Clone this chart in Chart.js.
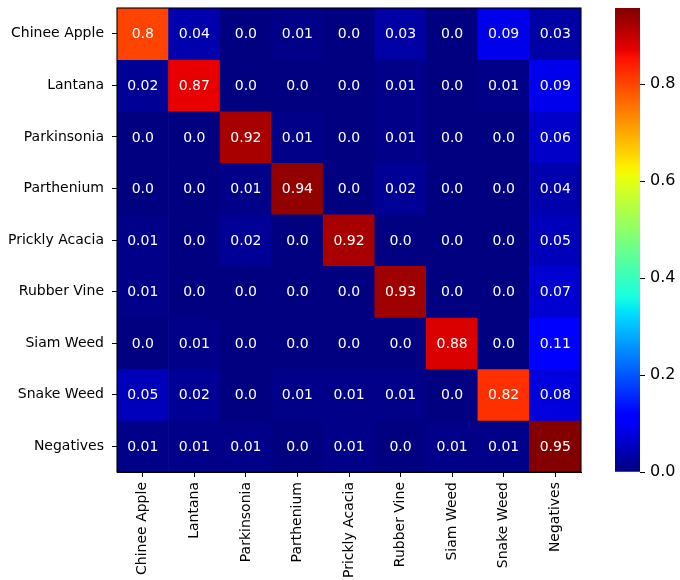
<!DOCTYPE html>
<html>
<head>
<meta charset="utf-8">
<script src="https://cdn.jsdelivr.net/npm/chart.js@4/dist/chart.umd.min.js"></script>
<style>
  html, body { margin: 0; padding: 0; background: #fff; }
  #wrap { position: relative; width: 680px; height: 580px; }
  #matrix { position: absolute; left: 0; top: 0; }
  #cbar { position: absolute; left: 600px; top: 0; }
</style>
</head>
<body>
<div id="wrap">
  <canvas id="matrix" width="600" height="580"></canvas>
  <canvas id="cbar" width="80" height="580"></canvas>
</div>
<script>
// Class names: rows are true labels, columns are predicted labels
const trueLabels = ['Chinee Apple', 'Lantana', 'Parkinsonia', 'Parthenium', 'Prickly Acacia',
                    'Rubber Vine', 'Siam Weed', 'Snake Weed', 'Negatives'];
const predLabels = ['Chinee Apple', 'Lantana', 'Parkinsonia', 'Parthenium', 'Prickly Acacia',
                    'Rubber Vine', 'Siam Weed', 'Snake Weed', 'Negatives'];

// Normalised confusion matrix, one array per true class
const chineeApple   = [0.8,  0.04, 0.0,  0.01, 0.0,  0.03, 0.0,  0.09, 0.03];
const lantana       = [0.02, 0.87, 0.0,  0.0,  0.0,  0.01, 0.0,  0.01, 0.09];
const parkinsonia   = [0.0,  0.0,  0.92, 0.01, 0.0,  0.01, 0.0,  0.0,  0.06];
const parthenium    = [0.0,  0.0,  0.01, 0.94, 0.0,  0.02, 0.0,  0.0,  0.04];
const pricklyAcacia = [0.01, 0.0,  0.02, 0.0,  0.92, 0.0,  0.0,  0.0,  0.05];
const rubberVine    = [0.01, 0.0,  0.0,  0.0,  0.0,  0.93, 0.0,  0.0,  0.07];
const siamWeed      = [0.0,  0.01, 0.0,  0.0,  0.0,  0.0,  0.88, 0.0,  0.11];
const snakeWeed     = [0.05, 0.02, 0.0,  0.01, 0.01, 0.01, 0.0,  0.82, 0.08];
const negatives     = [0.01, 0.01, 0.01, 0.0,  0.01, 0.0,  0.01, 0.01, 0.95];
const matrixRows = [chineeApple, lantana, parkinsonia, parthenium, pricklyAcacia,
                    rubberVine, siamWeed, snakeWeed, negatives];

// Colour scale range and colour bar ticks
const colorMin = 0.0;
const colorMax = 0.957;
const colorbarTicks = [0.0, 0.2, 0.4, 0.6, 0.8];

const FONT = 'DejaVu Sans';
Chart.defaults.font.family = FONT;
Chart.defaults.color = '#000';

// "jet" colour map (piecewise linear segments)
const JET = {
  r: [[0, 0], [0.35, 0], [0.66, 1], [0.89, 1], [1, 0.5]],
  g: [[0, 0], [0.125, 0], [0.375, 1], [0.64, 1], [0.91, 0], [1, 0]],
  b: [[0, 0.5], [0.11, 1], [0.34, 1], [0.65, 0], [1, 0]]
};
function seg(pts, t) {
  for (let i = 1; i < pts.length; i++) {
    if (t <= pts[i][0]) {
      const [x0, y0] = pts[i - 1], [x1, y1] = pts[i];
      return y0 + (y1 - y0) * (t - x0) / (x1 - x0);
    }
  }
  return pts[pts.length - 1][1];
}
function jetRGB(t) {
  t = Math.min(1, Math.max(0, t));
  return [seg(JET.r, t), seg(JET.g, t), seg(JET.b, t)].map(c => Math.round(c * 255));
}
// 256-entry lookup table
const LUT = Array.from({ length: 256 }, (_, i) => jetRGB(i / 255));
function colorFor(v) {
  const t = (v - colorMin) / (colorMax - colorMin);
  const idx = Math.min(255, Math.max(0, Math.floor(t * 256)));
  const [r, g, b] = LUT[idx];
  return `rgb(${r},${g},${b})`;
}
function fmt(v) {
  return Number.isInteger(v) ? v.toFixed(1) : String(v);
}
// Keep the plot frame exactly where the layout padding puts it
function noEdgePadding(scale) {
  scale.paddingTop = 0;
  scale.paddingBottom = 0;
}

// One floating-bar dataset per matrix row; every row spans [r, r+1] on the y scale
const datasets = matrixRows.map((row, r) => ({
  label: trueLabels[r],
  data: row.map(() => [r, r + 1]),
  values: row,
  backgroundColor: row.map(colorFor),
  borderWidth: 0,
  grouped: false,
  barPercentage: 1.0,
  categoryPercentage: 1.0
}));

// Cell annotations and frame
const cellText = {
  id: 'cellText',
  afterDatasetsDraw(chart) {
    const ctx = chart.ctx;
    ctx.save();
    ctx.fillStyle = '#fff';
    ctx.font = `14px "${FONT}"`;
    ctx.textAlign = 'center';
    ctx.textBaseline = 'middle';
    chart.data.datasets.forEach((ds, i) => {
      chart.getDatasetMeta(i).data.forEach((bar, j) => {
        const p = bar.getCenterPoint();
        ctx.fillText(fmt(ds.values[j]), p.x, p.y + 1);
      });
    });
    const a = chart.chartArea;
    ctx.strokeStyle = '#000';
    ctx.lineWidth = 1.1;
    ctx.strokeRect(a.left, a.top, a.right - a.left, a.bottom - a.top);
    ctx.restore();
  }
};

new Chart(document.getElementById('matrix'), {
  type: 'bar',
  data: { labels: predLabels, datasets },
  options: {
    responsive: false,
    animation: false,
    layout: { padding: { top: 8, right: 19, left: 0, bottom: 0 } },
    plugins: { legend: { display: false }, tooltip: { enabled: false } },
    scales: {
      x: {
        type: 'category',
        offset: true,
        grid: { display: true, offset: false, drawOnChartArea: false, drawTicks: true,
                tickLength: 5, color: '#000', lineWidth: 1 },
        border: { display: true, color: '#000' },
        ticks: { maxRotation: 90, minRotation: 90, autoSkip: false, padding: 5,
                 font: { size: 14 }, color: '#000' },
        afterFit(scale) { scale.height = 108; scale.paddingLeft = 0; scale.paddingRight = 0; }
      },
      y: {
        type: 'linear',
        min: 0,
        max: trueLabels.length,
        reverse: true,
        grid: { display: true, drawOnChartArea: false, drawTicks: true,
                tickLength: 5, color: '#000', lineWidth: 1 },
        border: { display: true, color: '#000' },
        afterBuildTicks(scale) {
          scale.ticks = trueLabels.map((_, i) => ({ value: i + 0.5 }));
        },
        ticks: {
          autoSkip: false,
          padding: 8,
          font: { size: 14 },
          color: '#000',
          callback: (v, i) => trueLabels[i]
        },
        afterFit(scale) { scale.width = 117; noEdgePadding(scale); }
      }
    }
  },
  plugins: [cellText]
});

// Colour bar: a single floating bar filled with the colour map gradient
function barGradient(context) {
  const area = context.chart.chartArea;
  if (!area) return null;
  const g = context.chart.ctx.createLinearGradient(0, area.bottom, 0, area.top);
  for (let i = 0; i < 256; i++) {
    const [r, gg, b] = LUT[i];
    g.addColorStop(i / 255, `rgb(${r},${gg},${b})`);
  }
  return g;
}

new Chart(document.getElementById('cbar'), {
  type: 'bar',
  data: {
    labels: [''],
    datasets: [{
      data: [[colorMin, colorMax]],
      backgroundColor: barGradient,
      borderWidth: 0,
      barPercentage: 1.0,
      categoryPercentage: 1.0
    }]
  },
  options: {
    responsive: false,
    animation: false,
    layout: { padding: { top: 8, bottom: 108, left: 15, right: 0 } },
    plugins: { legend: { display: false }, tooltip: { enabled: false } },
    scales: {
      x: { display: false },
      y: {
        type: 'linear',
        position: 'right',
        min: colorMin,
        max: colorMax,
        grid: { display: true, drawOnChartArea: false, drawTicks: true,
                tickLength: 5, color: '#000', lineWidth: 1 },
        border: { display: false },
        afterBuildTicks(scale) {
          scale.ticks = colorbarTicks.map(v => ({ value: v }));
        },
        ticks: {
          padding: 5,
          font: { size: 16 },
          color: '#000',
          callback: v => v.toFixed(1)
        },
        afterFit(scale) { scale.width = 40; noEdgePadding(scale); }
      }
    }
  }
});
</script>
</body>
</html>
